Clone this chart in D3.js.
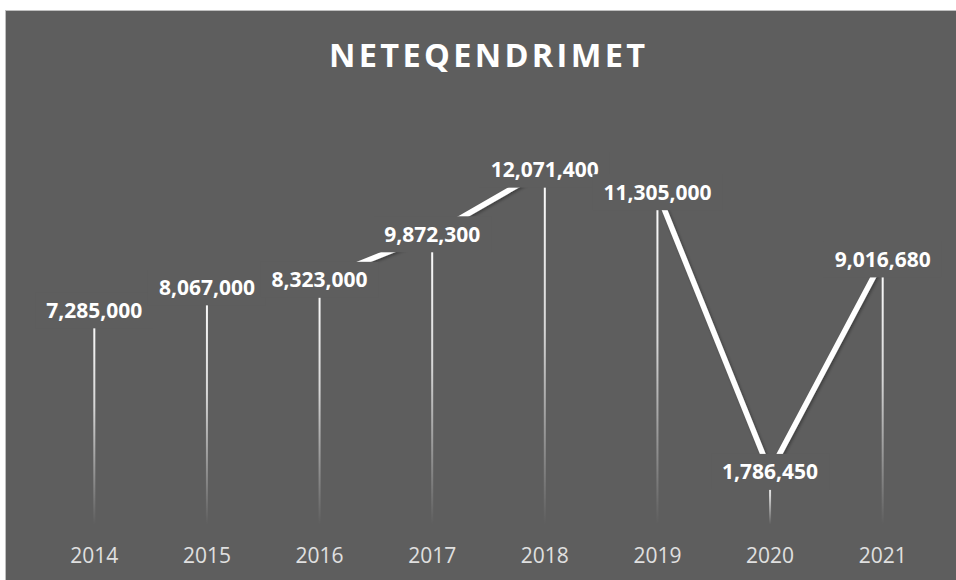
<!DOCTYPE html>
<html>
<head>
<meta charset="utf-8">
<script src="https://cdn.jsdelivr.net/npm/d3@7"></script>
<style>
  html, body { margin: 0; padding: 0; background: #ffffff; }
  svg { display: block; }
</style>
</head>
<body>
<svg width="956" height="580"></svg>
<script>
var years = ["2014", "2015", "2016", "2017", "2018", "2019", "2020", "2021"];
var values = [7285000, 8067000, 8323000, 9872300, 12071400, 11305000, 1786450, 9016680];
var title = "NETEQENDRIMET";

var svg = d3.select("svg"),
    width = +svg.attr("width"),
    height = +svg.attr("height"),
    bg = "#5e5e5e";

var data = years.map(function(y, i) { return { year: y, value: values[i] }; });

// chart frame
svg.append("rect")
  .attr("x", 5.5).attr("y", 10.5)
  .attr("width", width).attr("height", height)
  .attr("fill", bg)
  .attr("stroke", "#bfbfbf")
  .attr("stroke-width", 1);

var defs = svg.append("defs");
var grad = defs.append("linearGradient")
  .attr("id", "dropFade")
  .attr("x1", 0).attr("y1", 0).attr("x2", 0).attr("y2", 1);
grad.append("stop").attr("offset", "0%").attr("stop-color", "#ffffff").attr("stop-opacity", 1);
grad.append("stop").attr("offset", "45%").attr("stop-color", "#ffffff").attr("stop-opacity", 0.75);
grad.append("stop").attr("offset", "100%").attr("stop-color", "#ffffff").attr("stop-opacity", 0);

var shadow = defs.append("filter").attr("id", "lineShadow")
  .attr("x", "-10%").attr("y", "-10%").attr("width", "120%").attr("height", "120%");
shadow.append("feDropShadow")
  .attr("dx", 1.5).attr("dy", 1.5).attr("stdDeviation", 1.5)
  .attr("flood-color", "#000").attr("flood-opacity", 0.35);

var x = d3.scaleBand()
  .domain(years)
  .range([38, 939]);

var y = d3.scaleLinear()
  .domain([0, 14000000])
  .range([524.4, 113]);

function cx(d) { return x(d.year) + x.bandwidth() / 2; }

// title
svg.append("text")
  .attr("x", 329)
  .attr("y", 67)
  .attr("textLength", 316)
  .attr("lengthAdjust", "spacing")
  .attr("fill", "#ffffff")
  .style("font-family", "'Open Sans', sans-serif")
  .style("font-weight", 700)
  .style("font-size", "32.5px")
  .text(title);

// drop lines
svg.append("g")
  .selectAll("rect")
  .data(data)
  .enter().append("rect")
  .attr("x", function(d) { return cx(d) - 1; })
  .attr("y", function(d) { return y(d.value); })
  .attr("width", 2)
  .attr("height", function(d) { return y(0) - y(d.value); })
  .attr("fill", "url(#dropFade)");

// line
svg.append("path")
  .datum(data)
  .attr("fill", "none")
  .attr("stroke", "#ffffff")
  .attr("stroke-width", 5.5)
  .attr("stroke-linejoin", "round")
  .attr("filter", "url(#lineShadow)")
  .attr("d", d3.line()
    .x(cx)
    .y(function(d) { return y(d.value); }));

// x axis labels
svg.append("g")
  .selectAll("text")
  .data(years)
  .enter().append("text")
  .attr("x", function(d) { return x(d) + x.bandwidth() / 2; })
  .attr("y", 563)
  .attr("text-anchor", "middle")
  .attr("fill", "#e0e0e0")
  .style("font-family", "'Open Sans', sans-serif")
  .style("font-size", "21px")
  .text(function(d) { return d; });

// data labels with background boxes, drawn in order so later boxes cover earlier text
var fmt = d3.format(",");
var label = svg.append("g")
  .selectAll("g")
  .data(data)
  .enter().append("g")
  .attr("transform", function(d) { return "translate(" + cx(d) + "," + y(d.value) + ")"; });

label.each(function(d) {
  var g = d3.select(this);
  var box = g.append("rect").attr("fill", bg);
  var t = g.append("text")
    .attr("text-anchor", "middle")
    .attr("y", 7.5)
    .attr("fill", "#ffffff")
    .style("font-family", "'Open Sans', sans-serif")
    .style("font-weight", 700)
    .style("font-size", "21px")
    .text(fmt(d.value));
  var w = t.node().getComputedTextLength();
  box.attr("x", -w / 2 - 11)
    .attr("y", -18)
    .attr("width", w + 22)
    .attr("height", 36);
});
</script>
</body>
</html>
